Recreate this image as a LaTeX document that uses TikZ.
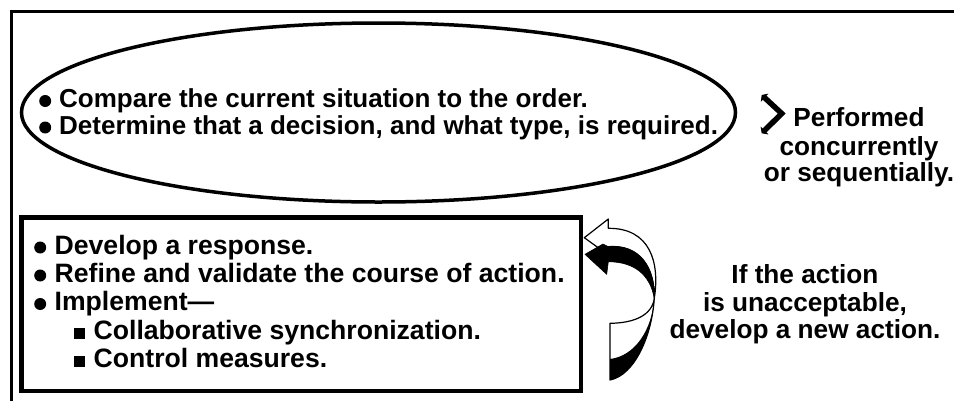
\documentclass[tikz,border=0pt]{standalone}
\usepackage{fontspec}
\setmainfont{Liberation Sans}
\usetikzlibrary{shapes.geometric,arrows.meta}
\newcommand{\rbul}{\tikz[baseline={(0pt,-6.5pt)}]\fill (0pt,0pt) circle[radius=6pt];}
\newcommand{\sqbul}{\rule{11.5pt}{11.5pt}}
\begin{document}
\begin{tikzpicture}[x=1pt,y=-1pt,
  txt/.style={font=\fontsize{26}{28}\selectfont\bfseries, inner sep=0pt, anchor=base west},
  btxt/.style={font=\fontsize{26.6}{28}\selectfont\bfseries, inner sep=0pt, anchor=base west},
  ctxt/.style={font=\fontsize{26.2}{28}\selectfont\bfseries, inner sep=0pt, anchor=base},
  ellst/.style={draw, line width=3.5pt, ellipse, minimum width=714pt, minimum height=179pt, inner sep=0pt},
  boxst/.style={draw, line width=4.5pt, rectangle, minimum width=559.5pt, minimum height=173.5pt, inner sep=0pt},
  whitepart/.style={fill=white, draw=black, line width=1.2pt, line join=round},
  blackpart/.style={fill=black, draw=black, line width=0.6pt, line join=round},
  chev/.style={line width=5.5pt, line join=miter, {Triangle[length=4pt,width=11pt]}-{Triangle[length=4pt,width=11pt]}}
]
\useasboundingbox (0,0) rectangle (954,400);
\clip (0,0) rectangle (954,400);
\fill[white] (0,0) rectangle (954,400);
% outer frame (cut off at right and bottom)
\draw[line width=3pt] (11,11) rectangle (970,420);

% ellipse and its text
\node[ellst] (ell) at (378.5,112.5) {};
\node[txt] (e1) at (39,107.5) {\rbul\hspace{8pt}Compare the current situation to the order.};
\node[txt] (e2) at (39,134) {\rbul\hspace{8pt}Determine that a decision, and what type, is required.};

% chevron
\coordinate (c1) at (761.7,95);
\coordinate (c2) at (781.7,113.5);
\coordinate (c3) at (761.7,133.3);
\draw[chev] (c1) -- (c2) -- (c3);

\node[ctxt] (p1) at (859,126.7) {Performed};
\node[ctxt] (p2) at (859,155) {concurrently};
\node[ctxt] (p3) at (859,181.7) {or sequentially.};

% box and its text
\node[boxst] (box) at (301.25,304.25) {};
\node[btxt] (b1) at (34,254) {\rbul\hspace{8.5pt}Develop a response.};
\node[btxt] (b2) at (34,282) {\rbul\hspace{8.5pt}Refine and validate the course of action.};
\node[btxt] (b3) at (34,310.5) {\rbul\hspace{8.5pt}Implement—};
\node[btxt] (b4) at (73.5,339) {\sqbul\hspace{8.5pt}Collaborative synchronization.};
\node[btxt] (b5) at (73.5,367) {\sqbul\hspace{8.5pt}Control measures.};

% twisted curved arrow
\coordinate (tw) at (654.3,298.3);
% lower ribbon
\draw[whitepart] (610,323.3) .. controls (635,323) and (652,315) .. (tw)
  .. controls (652,335) and (635,375) .. (610,380) -- cycle;
\fill[black] (610,359) .. controls (635,356) and (652,330) .. (tw)
  .. controls (652,335) and (635,375) .. (610,380) -- cycle;
% white arrow (upper face)
\draw[whitepart] (584.3,237.7) -- (608.3,219) -- (608.3,228.3)
  .. controls (650,228) and (660,262) .. (tw)
  .. controls (655,268) and (640,244) .. (608.3,246.7)
  -- (600,249) -- cycle;
% black arrow (under face)
\draw[blackpart] (585,254.3) -- (603,244) -- (608.3,246.7)
  .. controls (640,244) and (655,268) .. (tw)
  .. controls (650,275) and (635,262) .. (608.3,261.7)
  -- (606.7,274.3) -- cycle;

\node[ctxt] (i1) at (805,283.3) {If the action};
\node[ctxt] (i2) at (805,311.7) {is unacceptable,};
\node[ctxt] (i3) at (805,338.3) {develop a new action.};
\end{tikzpicture}
\end{document}
